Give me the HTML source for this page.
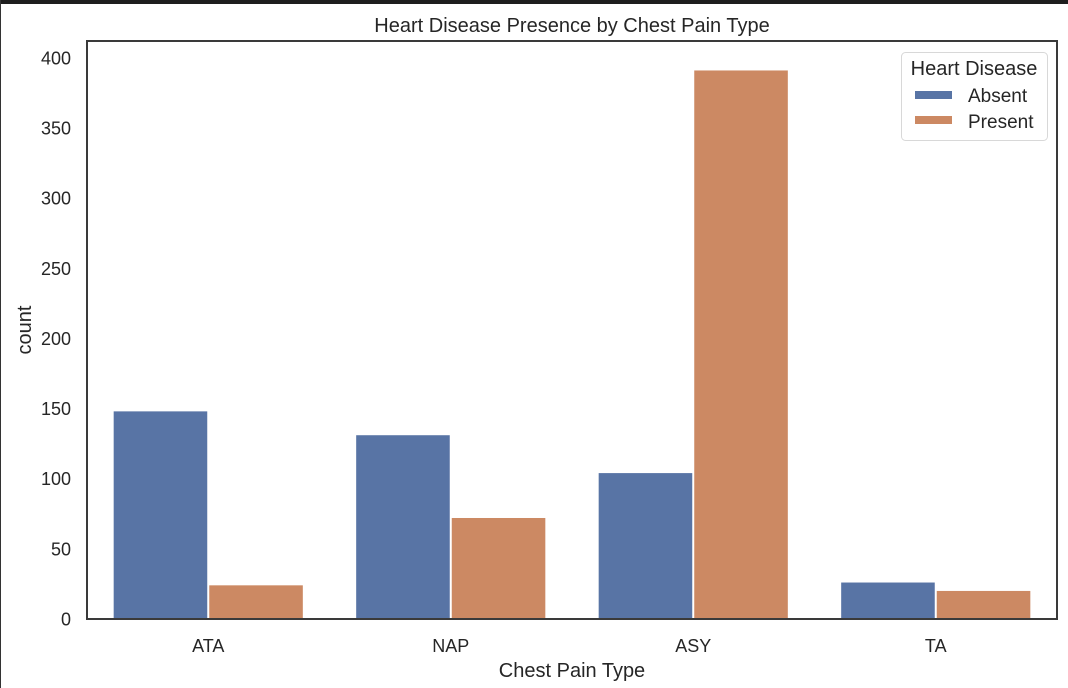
<!DOCTYPE html>
<html><head><meta charset="utf-8"><style>
body{margin:0;background:#fff;}
svg{display:block;font-family:"Liberation Sans",Arial,sans-serif;}
</style></head><body>
<svg id="chart" width="1068" height="688">
<rect x="0" y="0" width="1068" height="4" fill="#1e1e1e"/>
<rect x="0" y="0" width="1" height="688" fill="#333"/>
<text x="572" y="32" font-size="20" text-anchor="middle" fill="#262626">Heart Disease Presence by Chest Pain Type</text>
<g id="bars"></g>
<g id="yticks"></g>
<g id="xticks"></g>
<rect x="87" y="41" width="970" height="578" fill="none" stroke="#3a3a3a" stroke-width="2"/>
<text x="572" y="677" font-size="20" text-anchor="middle" fill="#262626">Chest Pain Type</text>
<text transform="translate(31,330) rotate(-90)" font-size="20" text-anchor="middle" fill="#262626">count</text>
<g>
<rect x="901.5" y="52.5" width="146" height="88" rx="4" fill="#fff" stroke="#d8d8d8"/>
<text x="974" y="75" font-size="20" text-anchor="middle" fill="#262626">Heart Disease</text>
<rect x="915" y="91" width="37" height="8" fill="#5874a5"/>
<text x="968" y="102" font-size="19" fill="#262626">Absent</text>
<rect x="915" y="116" width="37" height="8" fill="#cc8963"/>
<text x="968" y="128" font-size="19" fill="#262626">Present</text>
</g>
</svg>
<script>
const categories = ["ATA","NAP","ASY","TA"];
const absentValues = [148,131,104,26];
const presentValues = [24,72,391,20];
const yTickValues = [0,50,100,150,200,250,300,350,400];
const NS="http://www.w3.org/2000/svg";
const x0=87,x1=1057,y0=619,yTop=41,yMax=412;
const band=(x1-x0)/categories.length;
function xc(i){return x0+band*(i+0.5);}
function y(v){return y0-(v/yMax)*(y0-yTop);}
const bars=document.getElementById('bars');
const bw=band*0.39;
[[absentValues,"#5874a5",-1,"absent"],[presentValues,"#cc8963",0,"present"]].forEach(([vals,col,off,nm])=>{
  vals.forEach((v,i)=>{
    const r=document.createElementNS(NS,'rect');
    r.setAttribute('x',xc(i)+off*bw+(off<0?0:1));
    r.setAttribute('y',y(v));
    r.setAttribute('width',bw-1);
    r.setAttribute('height',y0-y(v));
    r.setAttribute('fill',col);
    
    
    bars.appendChild(r);
  });
});
const yt=document.getElementById('yticks');
yTickValues.forEach(v=>{
  const t=document.createElementNS(NS,'text');
  t.setAttribute('x',71);t.setAttribute('y',y(v)+6.5);
  t.setAttribute('font-size','18');t.setAttribute('text-anchor','end');t.setAttribute('fill','#262626');
  t.textContent=v;
  
  
  yt.appendChild(t);
});
const xt=document.getElementById('xticks');
categories.forEach((c,i)=>{
  const t=document.createElementNS(NS,'text');
  t.setAttribute('x',xc(i));t.setAttribute('y',652);
  t.setAttribute('font-size','18');t.setAttribute('text-anchor','middle');t.setAttribute('fill','#262626');
  t.textContent=c;
  
  
  xt.appendChild(t);
});
</script>
</body></html>
